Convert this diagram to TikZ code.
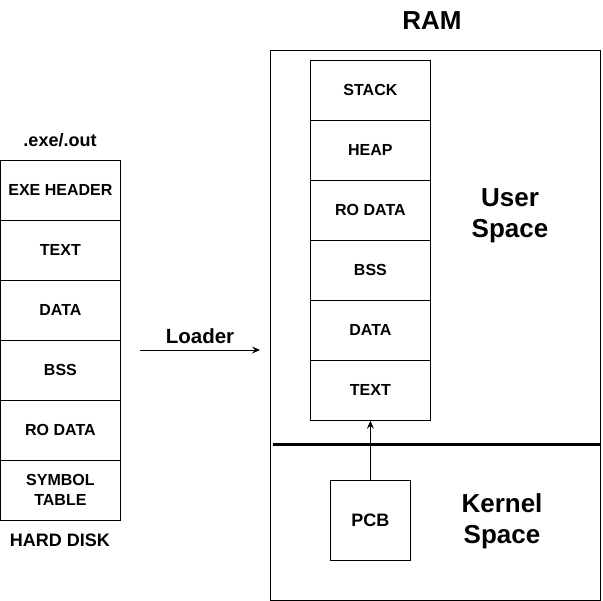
\documentclass[tikz,border=0pt]{standalone}
\usepackage{fontspec}
\setmainfont{Liberation Sans}
\usetikzlibrary{arrows.meta}
\begin{document}
\begin{tikzpicture}[x=1pt,y=-1pt,
  cell/.style={draw=black,line width=0.8pt,minimum width=120pt,minimum height=60pt,inner sep=0pt,anchor=north west,
    font=\fontsize{16}{20}\selectfont\bfseries,align=center},
  lbl/.style={font=\fontsize{18}{22}\selectfont\bfseries,inner sep=0pt},
  big/.style={font=\fontsize{26}{31}\selectfont\bfseries,inner sep=0pt,align=center},
  arr/.style={line width=0.8pt,-{Stealth[length=8pt,width=7pt,inset=3pt]}}]
\useasboundingbox (0,0) rectangle (603,601);
% hard disk
\node[lbl] (exe) at (60,140) {.exe/.out};
\node[cell] (h1) at (0,160) {EXE HEADER};
\node[cell] (h2) at (0,220) {TEXT};
\node[cell] (h3) at (0,280) {DATA};
\node[cell] (h4) at (0,340) {BSS};
\node[cell] (h5) at (0,400) {RO DATA};
\node[cell] (h6) at (0,460) {SYMBOL\\TABLE};
\node[lbl] (hd) at (60,540) {HARD DISK};
% loader
\coordinate (la) at (140,350);
\coordinate (lb) at (260,350);
\draw[arr] (la) -- (lb);
\node[font=\fontsize{20.5}{24}\selectfont\bfseries,inner sep=0pt] (loader) at (200,336) {Loader};
% RAM
\node[big] (ram) at (432,21) {RAM};
\node[draw=black,line width=0.8pt,minimum width=330pt,minimum height=550pt,anchor=north west,inner sep=0pt] (rambox) at (270,50) {};
\node[cell] (r1) at (310,60) {STACK};
\node[cell] (r2) at (310,120) {HEAP};
\node[cell] (r3) at (310,180) {RO DATA};
\node[cell] (r4) at (310,240) {BSS};
\node[cell] (r5) at (310,300) {DATA};
\node[cell] (r6) at (310,360) {TEXT};
\node[big] (us) at (510,216) {User\\Space};
\coordinate (sa) at (273,445);
\coordinate (sb) at (600,445);
\draw[line width=3pt] (sa) -- (sb);
\node[draw=black,line width=0.8pt,minimum width=80pt,minimum height=80pt,anchor=north west,inner sep=0pt,font=\fontsize{18}{22}\selectfont\bfseries] (pcb) at (330,480) {PCB};
\node[big] (ks) at (502,521) {Kernel\\Space};
\draw[arr] (pcb.north) -- (r6.south);
\end{tikzpicture}
\end{document}
